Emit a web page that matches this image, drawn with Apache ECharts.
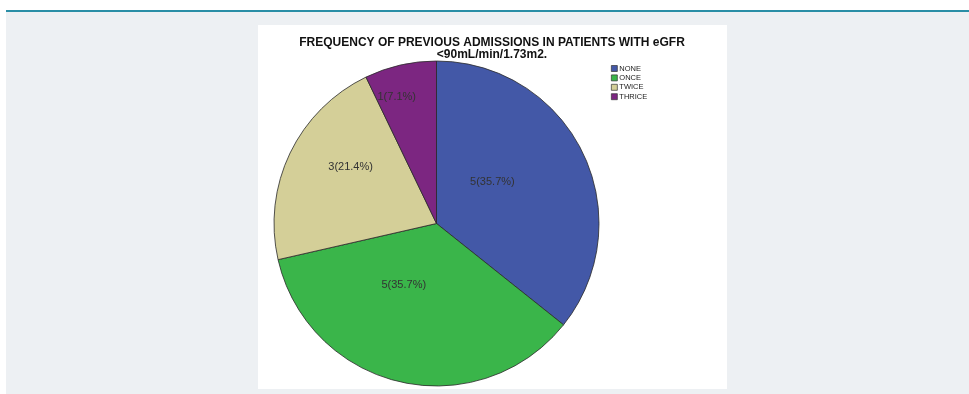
<!DOCTYPE html>
<html>
<head>
<meta charset="utf-8">
<script src="https://cdn.jsdelivr.net/npm/echarts@6/dist/echarts.min.js"></script>
<style>
  html, body { margin: 0; padding: 0; width: 969px; height: 394px; background: #ffffff; overflow: hidden; }
  #bg { position: absolute; left: 6px; top: 12px; width: 963px; height: 382px; background: #edf0f3; }
  #rule { position: absolute; left: 6px; top: 10px; width: 963px; height: 2px; background: #2a8ea6; }
  #panel { position: absolute; left: 258px; top: 25px; width: 469px; height: 364px; background: #ffffff; }
  #chart { position: absolute; left: 0; top: 0; width: 969px; height: 394px; }
</style>
</head>
<body>
<div id="bg"></div>
<div id="rule"></div>
<div id="panel"></div>
<div id="chart"></div>
<script>
const titleLines = ['FREQUENCY OF PREVIOUS ADMISSIONS IN PATIENTS WITH eGFR', '<90mL/min/1.73m2.'];
const categories = ['NONE', 'ONCE', 'TWICE', 'THRICE'];
const counts = [5, 5, 3, 1];
const percentLabels = ['35.7%', '35.7%', '21.4%', '7.1%'];

// styling (not data)
const sliceColors = ['#4358a7', '#3ab54a', '#d4cf98', '#7c2681'];
const labelNudge = [[-20, -5], [-14, -21], [-10, -20], [-21, -44]];

const chart = echarts.init(document.getElementById('chart'), null, { renderer: 'canvas' });
const option = {
  backgroundColor: 'transparent',
  animation: false,
  title: {
    text: titleLines.join('\n'),
    left: 487,
    top: 32,
    textAlign: 'center',
    textStyle: { fontFamily: 'Liberation Sans, Arial, sans-serif', fontWeight: 'bold', fontSize: 12, lineHeight: 11.5, color: '#111' }
  },
  legend: {
    orient: 'vertical',
    left: 606,
    top: 59,
    itemWidth: 6,
    itemHeight: 6,
    itemGap: 0.4,
    icon: 'rect',
    itemStyle: { borderColor: '#333', borderWidth: 0.7 },
    textStyle: { fontFamily: 'Liberation Sans, Arial, sans-serif', fontSize: 7.5, lineHeight: 9, color: '#222', padding: [0, 0, 0, -3] },
    data: categories
  },
  series: [{
    type: 'pie',
    center: [436.5, 223.5],
    radius: [0, 162.5],
    startAngle: 90,
    clockwise: true,
    silent: true,
    itemStyle: { borderColor: '#2a2a2a', borderWidth: 0.8 },
    label: {
      show: true,
      position: 'inside',
      fontFamily: 'Liberation Sans, Arial, sans-serif',
      fontSize: 11,
      color: '#333'
    },
    labelLine: { show: false },
    data: categories.map((c, i) => ({
      name: c,
      value: counts[i],
      itemStyle: { color: sliceColors[i] },
      label: { formatter: counts[i] + '(' + percentLabels[i] + ')', offset: labelNudge[i] }
    }))
  }]
};
chart.setOption(option);
</script>
</body>
</html>
